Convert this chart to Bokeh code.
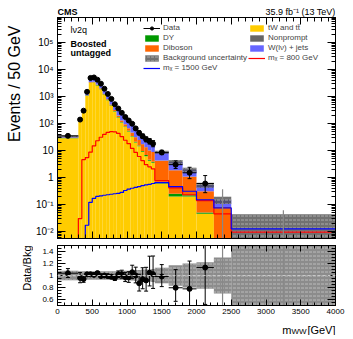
import math
from bokeh.plotting import figure
from bokeh.models import (ColumnDataSource, FixedTicker, SingleIntervalTicker, LinearAxis, LogAxis,
                          Range1d, Label, Legend, LegendItem, CustomJSTickFormatter, Span)
from bokeh.layouts import column, row
from bokeh.embed import file_html
from bokeh.resources import INLINE

# ---------------- data ----------------
bin_edges = [0, 300, 350, 400, 450, 500, 550, 600, 650, 700, 750, 800, 850, 900, 950, 1000,
             1050, 1100, 1150, 1200, 1250, 1300, 1350, 1400, 1600, 1800, 2000, 2250, 2500, 4000]
# observed events per bin
data_events = [210, 140, 300, 1500, 4900, 5100, 4200, 3000, 1950, 1250, 820, 520, 360, 250, 175,
               130, 98, 66, 45, 34, 26, 22, 18, 34, 12, 6, 3, 0, 0]
# backgrounds, events / 50 GeV
bkg_tt = [28.6, 116.6, 249, 1059, 3267, 3333, 2584, 1879, 1170, 733, 460, 282, 169, 110, 76,
          51, 33, 20, 14.5, 9, 6.2, 4.2, 3.5, 0.6, 0.2, 0.2, 0.045, 0, 0]
bkg_dy = [0.8, 3, 6, 25, 80, 85, 70, 55, 36, 24, 16, 11, 7, 5, 3.6,
          2.7, 1.9, 1.3, 1, 0.7, 0.6, 0.4, 0.3, 0.1, 0.05, 0.02, 0.005, 0, 0]
bkg_diboson = [0.5, 2.5, 6, 30, 100, 110, 95, 80, 58, 42, 32, 24, 19, 16, 14,
               13, 11, 10, 9, 7.5, 6.5, 5.5, 5, 3.5, 1.6, 0.85, 0.26, 0.08, 0.002]
bkg_nonprompt = [0.2, 0.7, 1.5, 7, 24, 25, 20, 15, 10, 6, 4, 3, 2, 1.2, 0.9,
                 0.7, 0.5, 0.3, 0.3, 0.2, 0.1, 0.1, 0.1, 0.05, 0.02, 0.01, 0, 0, 0]
bkg_wjets = [3.6, 23, 56.5, 350, 1333, 1497, 1269, 1001, 676, 458, 325, 222, 156, 113, 85.5,
             66.6, 46.6, 34.4, 26.9, 18.8, 14.9, 10.8, 8.7, 4.4, 1.9, 0.85, 0.22, 0.07, 0.002]
bkg_rel_unc = [0.08, 0.07, 0.07, 0.07, 0.07, 0.07, 0.07, 0.07, 0.07, 0.07, 0.07, 0.07, 0.075,
               0.075, 0.08, 0.08, 0.085, 0.09, 0.09, 0.1, 0.1, 0.1, 0.11, 0.13, 0.17, 0.2, 0.22,
               0.3, 10.0]
# signals, events / 50 GeV
signal_800 = [0, 0.03, 4.6, 5.5, 8.7, 15, 23, 31, 40, 47, 50, 49, 43, 33, 24,
              18, 12, 8.5, 6, 4.2, 3, 2.5, 2.1, 0.77, 0.41, 0.23, 0.14, 0.045, 0.0094]
signal_1500 = [0, 0, 0, 0.017, 0.12, 0.17, 0.2, 0.21, 0.22, 0.23, 0.24, 0.25, 0.26, 0.28, 0.33,
               0.37, 0.4, 0.43, 0.46, 0.5, 0.53, 0.56, 0.6, 0.65, 0.46, 0.31, 0.15, 0.075, 0.0125]

# ---------------- style ----------------
FONT = "Liberation Sans"
C_TT, C_DY, C_VV, C_NP, C_WJ = "#ffcc00", "#009900", "#ff6600", "#666666", "#6666ff"
Y_MIN, Y_MAX = 0.0055, 8.5e5
R_MIN, R_MAX = 0.5, 1.5
FLOOR = 1e-4
LS_W = 33          # width of the left title strip
BL = 57 - LS_W     # left border of the panels
W = 345 - LS_W     # panel width
H_HDR, H_MAIN, H_RATIO, H_FTR = 17, 224, 78, 16
H_ALL = H_HDR + H_MAIN + H_RATIO + H_FTR
txt = dict(text_font=FONT, text_color="black")

left = bin_edges[:-1]
right = bin_edges[1:]
widths = [r - l for l, r in zip(left, right)]
centers = [(l + r) / 2 for l, r in zip(left, right)]
scale = [50.0 / w for w in widths]
nb = len(left)


def pois_lo(n):
    if n <= 0:
        return 0.0
    return n - n * (1 - 1 / (9 * n) - 1 / (3 * math.sqrt(n))) ** 3


def pois_hi(n):
    m = n + 1
    return m * (1 - 1 / (9 * m) + 1 / (3 * math.sqrt(m))) ** 3 - n


data_val = [n * s for n, s in zip(data_events, scale)]
err_lo = [pois_lo(n) * s for n, s in zip(data_events, scale)]
err_hi = [pois_hi(n) * s for n, s in zip(data_events, scale)]


def style_axis(ax, tick_in, minor_in, font_size="9px", hide=False):
    ax.major_tick_in = tick_in
    ax.major_tick_out = 0
    ax.minor_tick_in = minor_in
    ax.minor_tick_out = 0
    ax.axis_line_color = "black"
    ax.major_tick_line_color = "black"
    ax.minor_tick_line_color = "black"
    ax.major_label_text_font = FONT
    ax.major_label_text_font_size = font_size
    ax.major_label_text_color = "black"
    if hide:
        ax.formatter = CustomJSTickFormatter(code="return '';")
        ax.major_label_standoff = 0
        ax.major_label_text_font_size = "0px"


def blank(fig):
    fig.xgrid.visible = False
    fig.ygrid.visible = False
    fig.outline_line_color = None
    fig.background_fill_color = "white"
    fig.border_fill_color = "white"


# ---------------- main panel ----------------
p = figure(width=W, height=H_MAIN, y_axis_type="log",
           x_range=Range1d(0, 4000), y_range=Range1d(Y_MIN, Y_MAX),
           output_backend="svg", toolbar_location=None,
           min_border_left=BL, min_border_right=10, min_border_top=0, min_border_bottom=3)
p.xgrid.visible = False
p.ygrid.visible = False
p.outline_line_color = "black"
p.background_fill_color = "white"

cum = [FLOOR] * nb
stack_r = {}
for name, vals, col in [("tt", bkg_tt, C_TT), ("dy", bkg_dy, C_DY), ("vv", bkg_diboson, C_VV),
                        ("np", bkg_nonprompt, C_NP), ("wj", bkg_wjets, C_WJ)]:
    top = [c + v for c, v in zip(cum, vals)]
    src = ColumnDataSource(dict(left=left, right=right, bottom=cum, top=top))
    stack_r[name] = p.quad(left="left", right="right", bottom="bottom", top="top", source=src,
                           fill_color=col, line_color=None)
    cum = top
total = [c - FLOOR for c in cum]

band_src = ColumnDataSource(dict(left=left, right=right,
                                 bottom=[max(t * (1 - u), FLOOR) for t, u in zip(total, bkg_rel_unc)],
                                 top=[t * (1 + u) for t, u in zip(total, bkg_rel_unc)]))
band_r = p.quad(left="left", right="right", bottom="bottom", top="top", source=band_src,
                fill_color="#4d4d4d", fill_alpha=0.8, line_color=None,
                hatch_pattern="horizontal_dash", hatch_color="#b0b0b0", hatch_alpha=0.9,
                hatch_scale=4, hatch_weight=1)


def step_vals(vals, floor):
    ys = [v if v > 0 else floor for v in vals]
    return ys + [ys[-1]]


s800 = p.step(bin_edges, step_vals(signal_800, Y_MIN), mode="after", line_color="#ff0000", line_width=1.2)
s1500 = p.step(bin_edges, step_vals(signal_1500, Y_MIN), mode="after", line_color="#0000ff", line_width=1.2)

pos = [i for i in range(nb) if data_events[i] > 0]
zero = [i for i in range(nb) if data_events[i] == 0]
dsrc = ColumnDataSource(dict(
    x=[centers[i] for i in pos], y=[data_val[i] for i in pos],
    ylo=[data_val[i] - err_lo[i] for i in pos], yhi=[data_val[i] + err_hi[i] for i in pos],
    xl=[left[i] for i in pos], xr=[right[i] for i in pos]))
p.segment(x0="x", y0="ylo", x1="x", y1="yhi", source=dsrc, line_color="black", line_width=1)
hbar = p.segment(x0="xl", y0="y", x1="xr", y1="y", source=dsrc, line_color="black", line_width=1)
p.scatter("x", "yhi", source=dsrc, marker="dash", size=4, line_color="black")
p.scatter("x", "ylo", source=dsrc, marker="dash", size=4, line_color="black")
pts = p.scatter("x", "y", source=dsrc, size=5, color="black")
zsrc = ColumnDataSource(dict(x=[centers[i] for i in zero], y0=[FLOOR for i in zero],
                             y1=[err_hi[i] for i in zero]))
p.segment(x0="x", y0="y0", x1="x", y1="y1", source=zsrc, line_color="#888888", line_width=1.2)

yt = [1e-2, 1e-1, 1, 10, 1e2, 1e3, 1e4, 1e5]
ymin_t = [k * 10.0 ** e for e in range(-3, 6) for k in range(2, 10)]
log_fmt = CustomJSTickFormatter(code="""
const e = Math.round(Math.log10(tick));
if (e == 0) return "1";
if (e == 1) return "10";
const sup = {"-":"\u207b","0":"\u2070","1":"\u00b9","2":"\u00b2","3":"\u00b3","4":"\u2074","5":"\u2075","6":"\u2076","7":"\u2077","8":"\u2078","9":"\u2079"};
return "10" + String(e).split("").map(c => sup[c]).join("");
""")
p.yaxis.ticker = FixedTicker(ticks=yt, minor_ticks=ymin_t)
p.yaxis.formatter = log_fmt
style_axis(p.yaxis[0], 8, 4, "10px")
p.yaxis.major_label_standoff = 4
p.xaxis.ticker = SingleIntervalTicker(interval=500, num_minor_ticks=5)
style_axis(p.xaxis[0], 7, 4, hide=True)
ra = LogAxis(ticker=FixedTicker(ticks=yt, minor_ticks=ymin_t))
style_axis(ra, 8, 4, hide=True)
p.add_layout(ra, "right")
ta = LinearAxis(ticker=SingleIntervalTicker(interval=500, num_minor_ticks=5))
style_axis(ta, 7, 4, hide=True)
p.add_layout(ta, "above")

leg_kw = dict(label_text_font=FONT, label_text_font_size="8px", glyph_width=17, glyph_height=8,
              label_height=8, spacing=1, padding=0, margin=0, label_standoff=3,
              background_fill_alpha=0, border_line_alpha=0)
leg1 = Legend(items=[LegendItem(label="Data", renderers=[hbar, pts]),
                     LegendItem(label="DY", renderers=[stack_r["dy"]]),
                     LegendItem(label="Diboson", renderers=[stack_r["vv"]]),
                     LegendItem(label="Background uncertainty", renderers=[band_r]),
                     LegendItem(label="m\u2093 = 1500 GeV", renderers=[s1500])],
              location=(86, 166), **leg_kw)
leg2 = Legend(items=[LegendItem(label="tW and t\u0074\u0304", renderers=[stack_r["tt"]]),
                     LegendItem(label="Nonprompt", renderers=[stack_r["np"]]),
                     LegendItem(label="W(l\u03bd) + jets", renderers=[stack_r["wj"]]),
                     LegendItem(label="m\u2093 = 800 GeV", renderers=[s800])],
              location=(191, 176), **leg_kw)
p.add_layout(leg1)
p.add_layout(leg2)

p.add_layout(Label(x=0, y=Y_MAX, x_offset=13, y_offset=-12, text="l\u03bd2q",
                   text_font_size="9px", text_baseline="alphabetic", **txt))
p.add_layout(Label(x=0, y=Y_MAX, x_offset=13, y_offset=-26, text="Boosted", text_font_style="bold",
                   text_font_size="9px", text_baseline="alphabetic", **txt))
p.add_layout(Label(x=0, y=Y_MAX, x_offset=13, y_offset=-35, text="untagged", text_font_style="bold",
                   text_font_size="9px", text_baseline="alphabetic", **txt))

# ---------------- header strip (CMS / luminosity) ----------------
hdr = figure(width=W, height=H_HDR, x_range=p.x_range, y_range=Range1d(0, H_HDR),
             output_backend="svg", toolbar_location=None, x_axis_location=None, y_axis_location=None,
             min_border_left=BL, min_border_right=10, min_border_top=0, min_border_bottom=0)
blank(hdr)
hdr.add_layout(Label(x=0, y=5.5, text="CMS", text_font_style="bold", text_font_size="9px",
                     text_baseline="alphabetic", **txt))
hdr.add_layout(Label(x=4000, y=6, text="35.9 fb\u207b\u00b9 (13 TeV)", text_font_size="9px",
                     text_align="right", text_baseline="alphabetic", **txt))

# ---------------- ratio panel ----------------
r = figure(width=W, height=H_RATIO, x_range=p.x_range, y_range=Range1d(R_MIN, R_MAX),
           output_backend="svg", toolbar_location=None,
           min_border_left=BL, min_border_right=10, min_border_top=4, min_border_bottom=14)
r.xgrid.visible = False
r.ygrid.visible = False
r.outline_line_color = "black"

rb_src = ColumnDataSource(dict(left=left, right=right,
                               bottom=[1 - u for u in bkg_rel_unc], top=[1 + u for u in bkg_rel_unc]))
r.quad(left="left", right="right", bottom="bottom", top="top", source=rb_src,
       fill_color="#666666", fill_alpha=0.75, line_color=None, hatch_pattern="horizontal_dash",
       hatch_color="#c0c0c0", hatch_alpha=0.9, hatch_scale=4, hatch_weight=1)
r.add_layout(Span(location=1, dimension="width", line_color="#c8c8c8", line_dash="3 2", line_width=1))

rsrc = ColumnDataSource(dict(
    x=[centers[i] for i in pos], y=[data_val[i] / total[i] for i in pos],
    ylo=[(data_val[i] - err_lo[i]) / total[i] for i in pos],
    yhi=[(data_val[i] + err_hi[i]) / total[i] for i in pos],
    xl=[left[i] for i in pos], xr=[right[i] for i in pos]))
r.segment(x0="x", y0="ylo", x1="x", y1="yhi", source=rsrc, line_color="black", line_width=1)
r.segment(x0="xl", y0="y", x1="xr", y1="y", source=rsrc, line_color="black", line_width=1)
r.scatter("x", "yhi", source=rsrc, marker="dash", size=4, line_color="black")
r.scatter("x", "ylo", source=rsrc, marker="dash", size=4, line_color="black")
r.scatter("x", "y", source=rsrc, size=5, color="black")
rzsrc = ColumnDataSource(dict(x=[centers[i] for i in zero], y0=[0 for i in zero],
                              y1=[err_hi[i] / max(total[i], 1e-9) for i in zero]))
r.segment(x0="x", y0="y0", x1="x", y1="y1", source=rzsrc, line_color="#888888", line_width=1.2)

r_ticks = [0.6, 0.8, 1.0, 1.2, 1.4]
r_minor = [round(0.5 + 0.05 * i, 2) for i in range(21)]
r.yaxis.ticker = FixedTicker(ticks=r_ticks, minor_ticks=r_minor)
r.yaxis.formatter = CustomJSTickFormatter(code="return String(Math.round(tick * 10) / 10);")
style_axis(r.yaxis[0], 8, 4, "8px")
r.yaxis.major_label_standoff = 4
r.xaxis.ticker = SingleIntervalTicker(interval=500, num_minor_ticks=5)
style_axis(r.xaxis[0], 6, 3, "8px")
r.xaxis.major_label_standoff = 3
rra = LinearAxis(ticker=FixedTicker(ticks=r_ticks, minor_ticks=r_minor))
style_axis(rra, 8, 4, hide=True)
r.add_layout(rra, "right")
rta = LinearAxis(ticker=SingleIntervalTicker(interval=500, num_minor_ticks=5))
style_axis(rta, 6, 3, hide=True)
r.add_layout(rta, "above")

# ---------------- footer strip (x-axis title) ----------------
ftr = figure(width=W, height=H_FTR, x_range=p.x_range, y_range=Range1d(0, H_FTR),
             output_backend="svg", toolbar_location=None, x_axis_location=None, y_axis_location=None,
             min_border_left=BL, min_border_right=10, min_border_top=0, min_border_bottom=0)
blank(ftr)
ftr.add_layout(Label(x=4000, y=6, text="[GeV]", text_font_size="11px",
                     text_align="right", text_baseline="alphabetic", **txt))
ftr.add_layout(Label(x=4000, y=4, x_offset=-29, text="WW", text_font_size="8px",
                     text_align="right", text_baseline="alphabetic", **txt))
ftr.add_layout(Label(x=4000, y=6, x_offset=-44, text="m", text_font_size="11px",
                     text_align="right", text_baseline="alphabetic", **txt))

# ---------------- left strip (y-axis titles) ----------------
ls = figure(width=LS_W, height=H_ALL, x_range=Range1d(0, LS_W), y_range=Range1d(H_ALL, 0),
            output_backend="svg", toolbar_location=None, x_axis_location=None, y_axis_location=None,
            min_border=0)
blank(ls)
ls.add_layout(Label(x=14, y=25, angle=math.pi / 2, text="Events / 50 GeV", text_font_size="16px",
                    text_align="right", text_baseline="middle", **txt))
ls.add_layout(Label(x=26.5, y=245, angle=math.pi / 2, text="Data/Bkg", text_font_size="11px",
                    text_align="right", text_baseline="middle", **txt))

layout = row(ls, column(hdr, p, r, ftr))
open("out.html", "w").write(file_html(layout, INLINE))
